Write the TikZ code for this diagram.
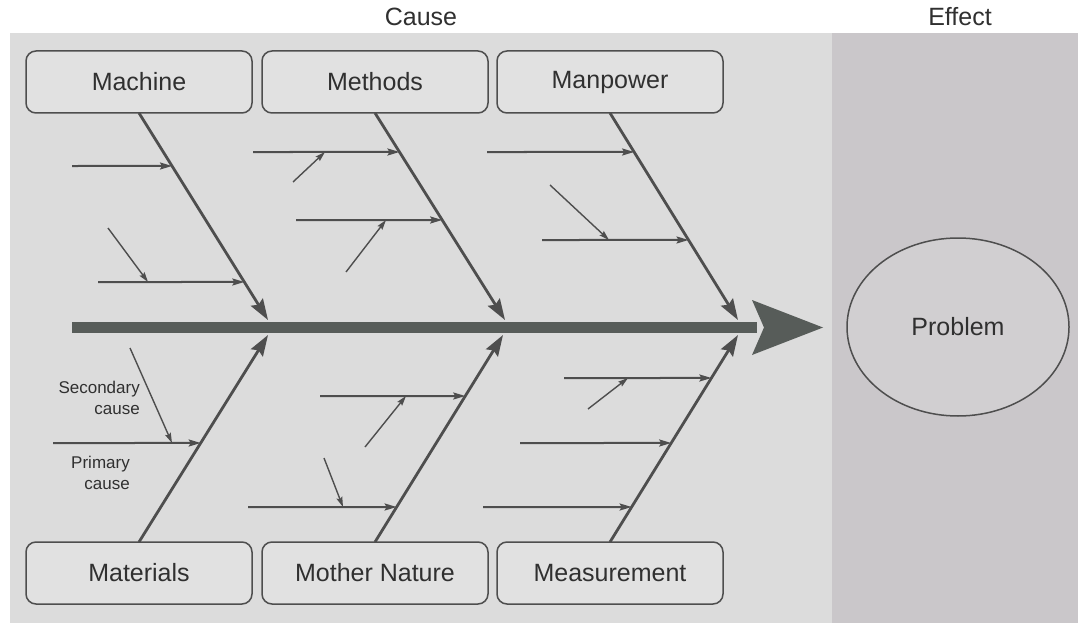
\documentclass[tikz,border=0pt]{standalone}
\usepackage{fontspec}
\setmainfont{Liberation Sans}
\usetikzlibrary{arrows.meta,calc,shapes.geometric}
\definecolor{bgL}{HTML}{DCDCDC}
\definecolor{bgR}{HTML}{CAC7CA}
\definecolor{boxc}{HTML}{E1E1E1}
\definecolor{ink}{HTML}{303030}
\definecolor{linec}{HTML}{4E4E4E}
\definecolor{spinec}{HTML}{575C59}
\begin{document}
\begin{tikzpicture}[x=1pt,y=-1pt,
  catbox/.style={draw=linec, line width=1.5pt, rounded corners=10pt, fill=boxc,
    minimum width=226pt, minimum height=62pt, inner sep=0pt, outer sep=0pt,
    text=ink, font=\fontsize{25}{30}\selectfont},
  bone/.style={draw=linec, line width=2.8pt, -{Stealth[length=21pt,width=14pt,inset=3pt]}},
  primary/.style={draw=linec, line width=2pt, -{Stealth[length=12pt,width=7pt,inset=2pt]}},
  secondary/.style={draw=linec, line width=1.4pt, -{Stealth[length=10pt,width=6pt,inset=1.5pt]}},
  title/.style={text=ink, font=\fontsize{25}{30}\selectfont},
  small/.style={text=ink, font=\fontsize{17}{21}\selectfont, align=right, anchor=east, inner sep=0pt}
]
\useasboundingbox (0,0) rectangle (1078,623);
\fill[white] (0,0) rectangle (1078,623);
\fill[bgL] (10,33) rectangle (832,623);
\fill[bgR] (832,33) rectangle (1078,623);

% titles
\node[title] (cause) at (421,17) {Cause};
\node[title] (effect) at (960,17) {Effect};

% category boxes
\node[catbox] (machine)  at (139,82) {Machine};
\node[catbox] (methods)  at (375,82) {Methods};
\node[catbox] (manpower) at (610,82) {Manpower};
\node[catbox] (materials) at (139,573) {Materials};
\node[catbox] (nature)    at (375,573) {Mother Nature};
\node[catbox] (measure)   at (610,573) {Measurement};

% problem
\node[ellipse, draw=linec, line width=1.5pt, fill=bgR!60!bgL, minimum width=222pt,
  minimum height=178pt, inner sep=0pt, text=ink, font=\fontsize{25}{30}\selectfont]
  (problem) at (958,327) {Problem};

% spine
\coordinate (spS) at (72,327.5);
\coordinate (spE) at (757,327.5);
\draw[spinec, line width=11pt] (spS) -- (spE);
\fill[spinec] (752,300) -- (823,327.5) -- (752,355) -- (764,327.5) -- cycle;

% bone tips
\coordinate (tA) at (268,320);
\coordinate (tB) at (505,320);
\coordinate (tC) at (738,320);
\coordinate (bA) at (268,335);
\coordinate (bB) at (503,335);
\coordinate (bC) at (738,335);

\draw[bone] (machine.south) -- (tA);
\draw[bone] (methods.south) -- (tB);
\draw[bone] (manpower.south) -- (tC);
\draw[bone] (materials.north) -- (bA);
\draw[bone] (nature.north) -- (bB);
\draw[bone] (measure.north) -- (bC);

% ---- Machine
\coordinate (a1s) at (72,166);
\coordinate (a1e) at ($(machine.south)!0.2560!(tA)$);
\coordinate (a2s) at (98,282);
\coordinate (a2e) at ($(machine.south)!0.8164!(tA)$);
\coordinate (a2x) at (108,228);
\coordinate (a2y) at (148,282);
\draw[primary] (a1s) -- (a1e);
\draw[primary] (a2s) -- (a2e);
\draw[secondary] (a2x) -- (a2y);

% ---- Methods
\coordinate (b1s) at (253,152);
\coordinate (b1e) at ($(methods.south)!0.1884!(tB)$);
\coordinate (b1x) at (293,182);
\coordinate (b1y) at (325,152);
\coordinate (b2s) at (296,220);
\coordinate (b2e) at ($(methods.south)!0.5169!(tB)$);
\coordinate (b2x) at (346,272);
\coordinate (b2y) at (386,220);
\draw[primary] (b1s) -- (b1e);
\draw[secondary] (b1x) -- (b1y);
\draw[primary] (b2s) -- (b2e);
\draw[secondary] (b2x) -- (b2y);

% ---- Manpower
\coordinate (c1s) at (487,152);
\coordinate (c1e) at ($(manpower.south)!0.1884!(tC)$);
\coordinate (c2s) at (542,240);
\coordinate (c2e) at ($(manpower.south)!0.6135!(tC)$);
\coordinate (c2x) at (550,185);
\coordinate (c2y) at (609,240);
\draw[primary] (c1s) -- (c1e);
\draw[primary] (c2s) -- (c2e);
\draw[secondary] (c2x) -- (c2y);

% ---- Materials
\coordinate (d1s) at (53,443);
\coordinate (d1e) at ($(materials.north)!0.4783!(bA)$);
\coordinate (d1x) at (130,348);
\coordinate (d1y) at (172,443);
\draw[primary] (d1s) -- (d1e);
\draw[secondary] (d1x) -- (d1y);
\node[small] (seclab) at (140,397.5) {Secondary\\cause};
\node[small] (primlab) at (130,472.5) {Primary\\cause};

% ---- Mother Nature
\coordinate (e1s) at (320,396);
\coordinate (e1e) at ($(nature.north)!0.7053!(bB)$);
\coordinate (e1x) at (365,447);
\coordinate (e1y) at (406,396);
\coordinate (e2s) at (248,507);
\coordinate (e2e) at ($(nature.north)!0.1691!(bB)$);
\coordinate (e2x) at (324,458);
\coordinate (e2y) at (343,507);
\draw[primary] (e1s) -- (e1e);
\draw[secondary] (e1x) -- (e1y);
\draw[primary] (e2s) -- (e2e);
\draw[secondary] (e2x) -- (e2y);

% ---- Measurement
\coordinate (f1s) at (564,378);
\coordinate (f1e) at ($(measure.north)!0.7923!(bC)$);
\coordinate (f1x) at (588,409);
\coordinate (f1y) at (628,378);
\coordinate (f2s) at (520,443);
\coordinate (f2e) at ($(measure.north)!0.4783!(bC)$);
\coordinate (f3s) at (483,507);
\coordinate (f3e) at ($(measure.north)!0.1691!(bC)$);
\draw[primary] (f1s) -- (f1e);
\draw[secondary] (f1x) -- (f1y);
\draw[primary] (f2s) -- (f2e);
\draw[primary] (f3s) -- (f3e);
\end{tikzpicture}
\end{document}
